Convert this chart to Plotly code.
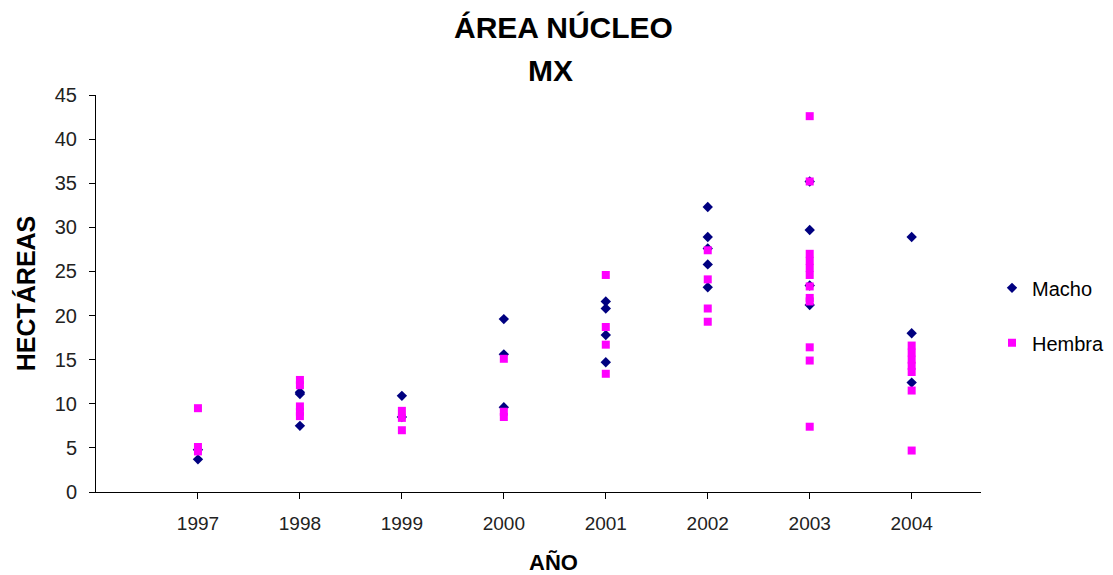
import plotly.graph_objects as go

# Core-area size (hectares) per individual and year, by sex
macho_anio = [1997, 1997,
              1998, 1998, 1998,
              1999, 1999,
              2000, 2000, 2000,
              2001, 2001, 2001, 2001,
              2002, 2002, 2002, 2002, 2002,
              2003, 2003, 2003, 2003,
              2004, 2004, 2004]
macho_ha = [3.7, 4.8,
            11.3, 11.1, 7.5,
            10.9, 8.5,
            19.6, 15.6, 9.6,
            21.6, 20.8, 17.8, 14.7,
            32.3, 28.9, 27.6, 25.8, 23.2,
            35.2, 29.7, 23.4, 21.2,
            28.9, 18.0, 12.4]

hembra_anio = [1997, 1997, 1997,
               1998, 1998, 1998, 1998, 1998,
               1999, 1999, 1999,
               2000, 2000, 2000,
               2001, 2001, 2001, 2001,
               2002, 2002, 2002, 2002,
               2003, 2003, 2003, 2003, 2003, 2003, 2003, 2003, 2003, 2003, 2003, 2003,
               2004, 2004, 2004, 2004, 2004, 2004, 2004]
hembra_ha = [9.5, 5.1, 4.6,
             12.7, 12.1, 9.7, 9.1, 8.6,
             9.2, 8.4, 7.0,
             15.1, 9.1, 8.5,
             24.6, 18.7, 16.7, 13.4,
             27.4, 24.1, 20.8, 19.3,
             42.6, 35.2, 27.0, 26.2, 25.4, 24.6, 23.3, 22.0, 21.6, 16.4, 14.9, 7.4,
             16.6, 15.8, 15.0, 14.3, 13.6, 11.5, 4.7]

x_ticks = [1997, 1998, 1999, 2000, 2001, 2002, 2003, 2004]
y_ticks = [0, 5, 10, 15, 20, 25, 30, 35, 40, 45]

FONT = "Liberation Sans, Arial, sans-serif"
ML, MR, MT, MB = 96, 132, 95, 83
PW = 1113 - ML - MR
PH = 575 - MT - MB

fig = go.Figure()
fig.add_trace(go.Scatter(
    x=macho_anio, y=macho_ha, mode="markers", name="Macho",
    legendgroup="macho",
    marker=dict(symbol="diamond", size=8, color="#000080", line=dict(width=0)),
))
fig.add_trace(go.Scatter(
    x=hembra_anio, y=hembra_ha, mode="markers", name="Hembra",
    legendgroup="hembra",
    marker=dict(symbol="square", size=8, color="#FF00FF", line=dict(width=0)),
))

fig.update_layout(
    width=1113, height=575,
    paper_bgcolor="white", plot_bgcolor="white",
    margin=dict(l=ML, r=MR, t=MT, b=MB, autoexpand=False),
    font=dict(family=FONT, color="#000000"),
    showlegend=True,
    legend=dict(
        x=(992 - ML) / PW, y=0.445, xanchor="left", yanchor="middle",
        font=dict(family=FONT, size=20, color="#000000"),
        tracegroupgap=26, itemwidth=30,
        bgcolor="rgba(0,0,0,0)",
    ),
    annotations=[
        dict(text="<b>ÁREA NÚCLEO</b>", xref="paper", yref="paper",
             x=(563 - ML) / PW, y=1.0, yshift=68,
             xanchor="center", yanchor="middle", showarrow=False,
             font=dict(family=FONT, size=30, color="#000000")),
        dict(text="<b>MX</b>", xref="paper", yref="paper",
             x=(550 - ML) / PW, y=1.0, yshift=25,
             xanchor="center", yanchor="middle", showarrow=False,
             font=dict(family=FONT, size=30, color="#000000")),
        dict(text="<b>AÑO</b>", xref="paper", yref="paper",
             x=(553 - ML) / PW, y=0, yshift=-(562 - (575 - MB)),
             xanchor="center", yanchor="middle", showarrow=False,
             font=dict(family=FONT, size=22, color="#000000")),
    ],
)

fig.update_xaxes(
    range=[1996, 2004.68],
    tickmode="array", tickvals=x_ticks, ticktext=[str(v) for v in x_ticks],
    ticks="outside", ticklen=6, tickcolor="#000000", tickwidth=1,
    showline=True, linecolor="#000000", linewidth=1,
    showgrid=False, zeroline=False,
    tickfont=dict(family=FONT, size=19, color="#222222"),
    ticklabelstandoff=8,
)
fig.update_yaxes(
    range=[0, 45],
    tickmode="array", tickvals=y_ticks,
    ticks="outside", ticklen=6, tickcolor="#000000", tickwidth=1,
    showline=True, linecolor="#000000", linewidth=1,
    showgrid=False, zeroline=False,
    tickfont=dict(family=FONT, size=20, color="#222222"),
    ticklabelstandoff=8,
    title=dict(text="<b>HECTÁREAS</b>", font=dict(family=FONT, size=25, color="#000000"),
               standoff=12),
)

fig.write_html("out.html")
